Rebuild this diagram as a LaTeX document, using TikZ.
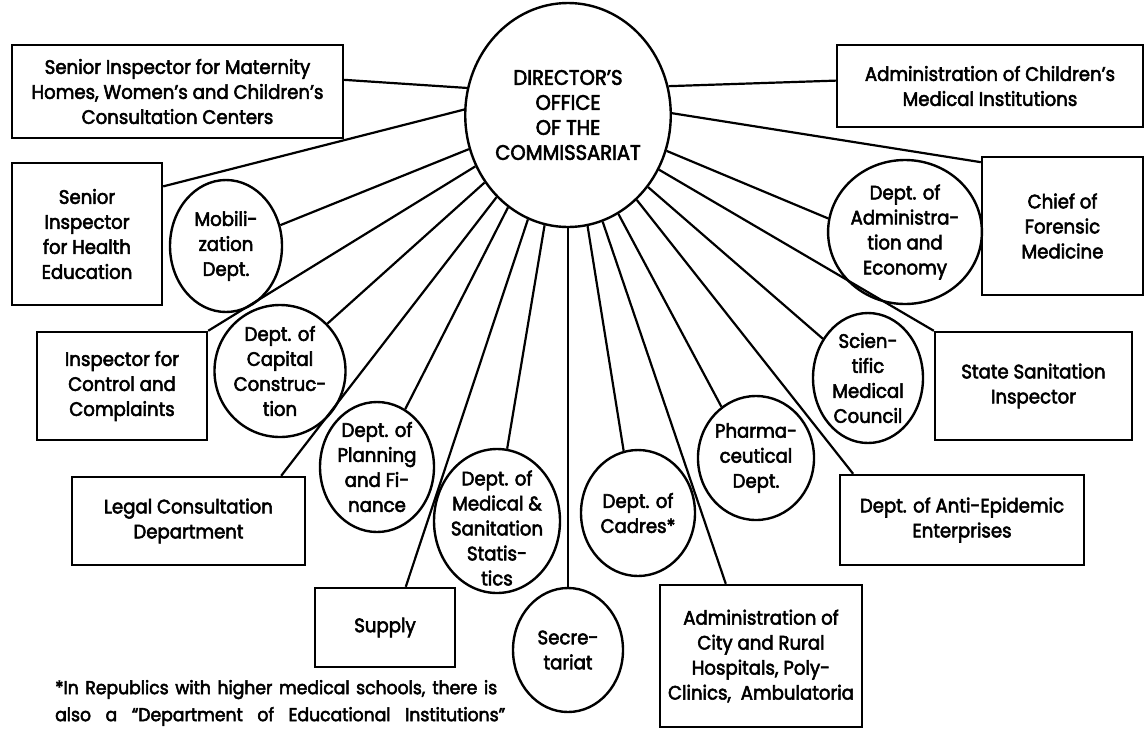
\documentclass[tikz,border=0pt]{standalone}
\usepackage{fontspec}
\setmainfont{Poppins}
\newfontfamily\popfont{Poppins}[FakeStretch=0.93,FakeBold=2.8]
\usetikzlibrary{shapes.geometric}
\begin{document}
\begin{tikzpicture}[x=1pt,y=-1pt,
  every node/.style={font=\popfont\fontsize{19.5}{25}\selectfont, align=center, inner sep=0pt},
  box/.style={draw, line width=2.4pt, rectangle},
  oval/.style={draw, line width=2.4pt, ellipse},
  link/.style={line width=2.2pt}]
\fill[white] (0,0) rectangle (1148,729);
\useasboundingbox (0,0) rectangle (1148,729);

% centre
\node[oval, minimum width=190pt, minimum height=224pt, font=\popfont\fontsize{21}{25}\selectfont] (dir) at (568,115) {DIRECTOR’S\\OFFICE\\OF THE\\COMMISSARIAT};

% boxes
\node[box, minimum width=331pt, minimum height=93pt] (mat) at (177.5,91.5) {Senior Inspector for Maternity\\Homes, Women’s and Children’s\\Consultation Centers};
\node[box, minimum width=306pt, minimum height=82pt] (chi) at (990,86) {Administration of Children’s\\Medical Institutions};
\node[box, minimum width=150pt, minimum height=142pt] (hea) at (87,234) {Senior\\Inspector\\for Health\\Education};
\node[box, minimum width=161pt, minimum height=138pt] (frn) at (1062.5,226) {Chief of\\Forensic\\Medicine};
\node[box, minimum width=170pt, minimum height=108pt] (con) at (122,386) {Inspector for\\Control and\\Complaints};
\node[box, minimum width=197pt, minimum height=108pt] (sta) at (1033.5,386) {State Sanitation\\Inspector};
\node[box, minimum width=233pt, minimum height=88pt] (leg) at (188.5,521) {Legal Consultation\\Department};
\node[box, minimum width=244pt, minimum height=90pt] (ant) at (962,520) {Dept. of Anti-Epidemic\\Enterprises};
\node[box, minimum width=140pt, minimum height=79pt] (sup) at (385,627.5) {Supply};
\node[box, minimum width=202pt, minimum height=142pt] (hos) at (761,656) {Administration of\\City and Rural\\Hospitals, Poly-\\Clinics,\ \ Ambulatoria};

% ovals
\node[oval, minimum width=112pt, minimum height=132pt] (mob) at (226,246) {Mobili-\\zation\\Dept.};
\node[oval, minimum width=106pt, minimum height=132pt] (cap) at (280,371) {Dept. of\\Capital\\Construc-\\tion};
\node[oval, minimum width=114pt, minimum height=130pt] (pla) at (377,467) {Dept. of\\Planning\\and Fi-\\nance};
\node[oval, minimum width=126pt, minimum height=144pt] (med) at (497,521) {};
\node (medtxt) at (497,528) {Dept. of\\Medical \&\\Sanitation\\Statis-\\tics};
\node[oval, minimum width=110pt, minimum height=124pt] (sec) at (568,650) {Secre-\\tariat};
\node[oval, minimum width=114pt, minimum height=126pt] (cad) at (638,513) {Dept. of\\Cadres*};
\node[oval, minimum width=112pt, minimum height=124pt] (pha) at (756,458) {Pharma-\\ceutical\\Dept.};
\node[oval, minimum width=110pt, minimum height=130pt] (sci) at (868,378) {Scien-\\tific\\Medical\\Council};
\node[oval, minimum width=126pt, minimum height=144pt] (adm) at (905,232) {Dept. of\\Administra-\\tion and\\Economy};

% connectors
\draw[link] (dir.165) -- (mat.4.7);
\draw[link] (dir.16) -- (chi.178.5);
\draw[link] (dir.177) -- (hea.32.1);
\draw[link] (dir.1.2) -- (frn.142.8);
\draw[link] (dir.199.5) -- (mob.21);
\draw[link] (dir.209) -- (con.north east);
\draw[link] (dir.219) -- (cap.45.6);
\draw[link] (dir.229) -- (leg.26.2);
\draw[link] (dir.237) -- (pla.64.2);
\draw[link] (dir.249) -- (sup.63.1);
\draw[link] (dir.258) -- (med.82.3);
\draw[link] (dir.270) -- (sec.north);
\draw[link] (dir.280) -- (cad.103.4);
\draw[link] (dir.288) -- (hos.116.9);
\draw[link] (dir.297) -- (pha.124.2);
\draw[link] (dir.309) -- (ant.157.2);
\draw[link] (dir.318) -- (sci.139);
\draw[link] (dir.329) -- (sta.north west);
\draw[link] (dir.340) -- (adm.170.8);

% footnote
\node[anchor=west, align=left, font=\popfont\fontsize{18.5}{27}\selectfont] (note) at (55,703) {\makebox[442pt][s]{*In Republics with higher medical schools, there is}\\\makebox[450pt][s]{also a “Department of Educational Institutions”}};
\end{tikzpicture}
\end{document}
